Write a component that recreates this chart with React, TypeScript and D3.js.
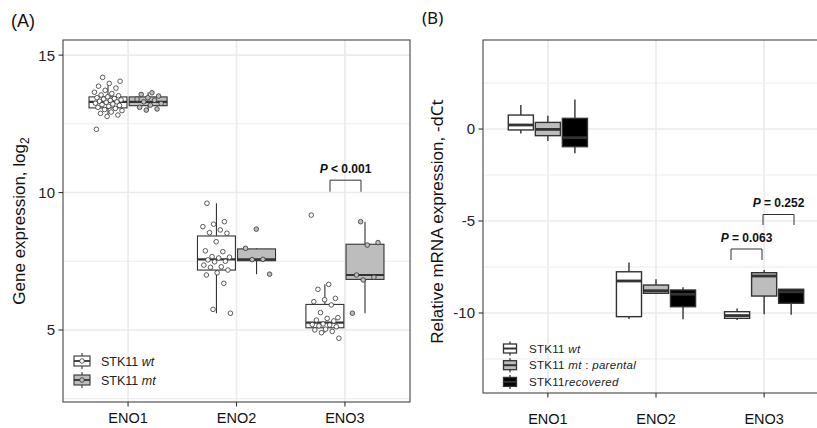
import React from "react";
import * as d3 from "d3";

const genes = ["ENO1", "ENO2", "ENO3"];
const yTicksA = [5, 10, 15];
const yMinorA = [2.5, 7.5, 12.5];
const yTicksB = [0, -5, -10];
const yMinorB = [2.5, -2.5, -7.5, -12.5];

// box stats: [lower whisker, Q1, median, Q3, upper whisker]
const boxA_wt = [
  [12.75, 13.08, 13.3, 13.48, 13.9],
  [5.61, 7.18, 7.57, 8.42, 9.61],
  [4.9, 5.08, 5.27, 5.93, 6.66],
];
const boxA_mt = [
  [13.0, 13.16, 13.3, 13.48, 13.65],
  [7.03, 7.52, 7.57, 7.95, 7.97],
  [5.61, 6.84, 7.0, 8.12, 8.94],
];

// individual samples (panel A)
const ptsA_wt = [
  [14.19, 14.05, 13.97, 13.87, 13.8, 13.72, 13.65, 13.6, 13.55, 13.52, 13.48, 13.45, 13.42, 13.4, 13.37, 13.35, 13.32, 13.3, 13.28, 13.25, 13.22, 13.2, 13.17, 13.14, 13.1, 13.06, 13.02, 12.98, 12.93, 12.88, 12.82, 12.77, 12.3],
  [9.61, 8.94, 8.85, 8.76, 8.64, 8.54, 8.52, 8.21, 7.88, 7.85, 7.67, 7.65, 7.62, 7.55, 7.5, 7.48, 7.36, 7.3, 7.28, 7.18, 7.08, 7.0, 6.7, 5.75, 5.61],
  [9.18, 6.66, 6.48, 6.15, 6.1, 6.03, 5.91, 5.63, 5.45, 5.42, 5.36, 5.33, 5.22, 5.2, 5.18, 5.15, 5.12, 5.03, 5.0, 4.95, 4.9, 4.7],
];
const ptsA_mt = [
  [13.63, 13.57, 13.51, 13.45, 13.4, 13.36, 13.3, 13.24, 13.18, 13.1, 13.04, 13.0],
  [8.67, 7.97, 7.57, 7.56, 7.03],
  [8.94, 8.18, 8.09, 7.0, 6.92, 6.82, 5.61],
];

const boxB_wt = [
  [-0.24, -0.05, 0.22, 0.76, 1.3],
  [-10.33, -10.2, -8.26, -7.76, -7.25],
  [-10.38, -10.29, -10.14, -9.93, -9.75],
];
const boxB_mt = [
  [-0.65, -0.36, -0.02, 0.36, 0.72],
  [-8.93, -8.93, -8.79, -8.48, -8.17],
  [-10.07, -9.08, -7.99, -7.81, -7.66],
];
const boxB_rec = [
  [-1.32, -0.96, -0.47, 0.58, 1.61],
  [-10.34, -9.66, -8.98, -8.75, -8.6],
  [-10.1, -9.47, -8.85, -8.71, -8.71],
];

const FONT = "'Liberation Sans', Arial, sans-serif";
const STROKE = "#333";
const GRID = "#ebebeb";
const FILL_WT = "#ffffff";
const FILL_MT = "#bdbdbd";
const FILL_REC = "#000000";

function jit(i: number) {
  return ((i * 0.6180339887 + 0.31) % 1) - 0.5;
}

function Box({ cx, hw, s, y, fill, sw, key }: any) {
  const [lo, q1, md, q3, hi] = s;
  return (
    <g key={key}>
      <line x1={cx} x2={cx} y1={y(hi)} y2={y(q3)} stroke={STROKE} strokeWidth={sw} />
      <line x1={cx} x2={cx} y1={y(q1)} y2={y(lo)} stroke={STROKE} strokeWidth={sw} />
      <rect x={cx - hw} width={hw * 2} y={y(q3)} height={Math.max(0.5, y(q1) - y(q3))} fill={fill} stroke={STROKE} strokeWidth={sw} />
      <line x1={cx - hw} x2={cx + hw} y1={y(md)} y2={y(md)} stroke={STROKE} strokeWidth={sw * 2} />
    </g>
  );
}

function Bracket({ x1, x2, yTop, yBot, label, rest }: any) {
  return (
    <g>
      <path d={`M${x1},${yBot}V${yTop}H${x2}V${yBot}`} fill="none" stroke={STROKE} strokeWidth={1} />
      <text x={(x1 + x2) / 2} y={yTop - 7.5} textAnchor="middle" fontFamily={FONT} fontSize={12} fontWeight="bold" fill="#111">
        <tspan fontStyle="italic">{label}</tspan>
        {rest}
      </text>
    </g>
  );
}

export default function App() {
  const W = 817, H = 428;
  // Panel A
  const A = { x0: 63, x1: 410, y0: 40, y1: 402 };
  const xA = d3.scalePoint<string>().domain(genes).range([A.x0, A.x1]).padding(0.6);
  const yA = d3.scaleLinear().domain([2.38, 15.55]).range([A.y1, A.y0]);
  const stA = xA.step();
  const offA = 0.185 * stA;
  const hwA = 0.175 * stA;

  // Panel B
  const B = { x0: 483, x1: 829, y0: 40, y1: 393 };
  const xB = d3.scalePoint<string>().domain(genes).range([B.x0, B.x1]).padding(0.6);
  const yB = d3.scaleLinear().domain([-14.35, 4.84]).range([B.y1, B.y0]);
  const stB = xB.step();
  const offB = 0.25 * stB;
  const hwB = 0.116 * stB;

  const groupsA = [
    { box: boxA_wt, pts: ptsA_wt, fill: FILL_WT, off: -offA },
    { box: boxA_mt, pts: ptsA_mt, fill: FILL_MT, off: offA },
  ];
  const groupsB = [
    { box: boxB_wt, fill: FILL_WT, off: -offB },
    { box: boxB_mt, fill: FILL_MT, off: 0 },
    { box: boxB_rec, fill: FILL_REC, off: offB },
  ];

  const legendA = [
    { fill: FILL_WT, a: "STK11 ", b: "wt", c: "" },
    { fill: FILL_MT, a: "STK11 ", b: "mt", c: "" },
  ];
  const legendB = [
    { fill: FILL_WT, parts: [["STK11 ", false], ["wt", true]] },
    { fill: FILL_MT, parts: [["STK11 ", false], ["mt", true], [" : ", false], ["parental", true]] },
    { fill: FILL_REC, parts: [["STK11", false], ["recovered", true]] },
  ];

  return (
    <svg width={W} height={H} style={{ position: "absolute", left: 0, top: 0, background: "#fff" }}>
      <rect x={0} y={0} width={W} height={H} fill="#fff" />
      {/* ===== Panel A ===== */}
      <text x={11} y={27} fontFamily={FONT} fontSize={18} fill="#111">(A)</text>
      <g>
        {yMinorA.map((v) => (
          <line key={"am" + v} x1={A.x0} x2={A.x1} y1={yA(v)} y2={yA(v)} stroke={GRID} strokeWidth={1} />
        ))}
        {yTicksA.map((v) => (
          <line key={"aM" + v} x1={A.x0} x2={A.x1} y1={yA(v)} y2={yA(v)} stroke={GRID} strokeWidth={1.6} />
        ))}
        {genes.map((g) => (
          <line key={"av" + g} x1={xA(g)} x2={xA(g)} y1={A.y0} y2={A.y1} stroke={GRID} strokeWidth={1.6} />
        ))}
        {groupsA.map((G, gi) =>
          genes.map((g, i) => (
            <Box key={`ab${gi}${i}`} cx={(xA(g) as number) + G.off} hw={hwA} s={G.box[i]} y={yA} fill={G.fill} sw={1.1} />
          ))
        )}
        {groupsA.map((G, gi) =>
          genes.map((g, i) =>
            G.pts[i].map((v, k) => (
              <circle
                key={`ap${gi}${i}${k}`}
                cx={(xA(g) as number) + G.off + jit(k + gi * 7 + i * 3) * 0.26 * stA}
                cy={yA(v)}
                r={2.3}
                fill={G.fill}
                stroke={STROKE}
                strokeWidth={0.8}
              />
            ))
          )
        )}
        <rect x={A.x0} y={A.y0} width={A.x1 - A.x0} height={A.y1 - A.y0} fill="none" stroke="#444" strokeWidth={1.1} />
        {yTicksA.map((v) => (
          <g key={"at" + v}>
            <line x1={A.x0 - 4.5} x2={A.x0} y1={yA(v)} y2={yA(v)} stroke="#333" strokeWidth={1.1} />
            <text x={A.x0 - 8} y={yA(v)} dy="0.36em" textAnchor="end" fontFamily={FONT} fontSize={15} fill="#222">{v}</text>
          </g>
        ))}
        {genes.map((g) => (
          <g key={"ax" + g}>
            <line x1={xA(g)} x2={xA(g)} y1={A.y1} y2={A.y1 + 4.5} stroke="#333" strokeWidth={1.1} />
            <text x={xA(g)} y={423} textAnchor="middle" fontFamily={FONT} fontSize={14.5} fill="#111">{g}</text>
          </g>
        ))}
        <text transform={`translate(25,${(A.y0 + A.y1) / 2}) rotate(-90)`} textAnchor="middle" fontFamily={FONT} fontSize={17} fill="#111">
          Gene expression, log<tspan fontSize={12} dy={4}>2</tspan>
        </text>
        <Bracket x1={330} x2={361} yTop={yA(10.45)} yBot={yA(10.03)} label="P" rest=" < 0.001" />
        {legendA.map((L, i) => {
          const cy = 361 + i * 19;
          const cx = 82;
          return (
            <g key={"la" + i}>
              <line x1={cx} x2={cx} y1={cy - 8} y2={cy + 8} stroke={STROKE} strokeWidth={1.1} />
              <rect x={cx - 8} y={cy - 5} width={16} height={10} fill={L.fill} stroke={STROKE} strokeWidth={1.1} />
              <line x1={cx - 8} x2={cx + 8} y1={cy} y2={cy} stroke={STROKE} strokeWidth={1.8} />
              <circle cx={cx} cy={cy} r={2.3} fill={L.fill} stroke={STROKE} strokeWidth={0.8} />
              <text x={101} y={cy} dy="0.36em" fontFamily={FONT} fontSize={12.5} fill="#222">
                {L.a}<tspan fontStyle="italic">{L.b}</tspan>
              </text>
            </g>
          );
        })}
      </g>

      {/* ===== Panel B ===== */}
      <text x={422} y={24} fontFamily="'Noto Sans', 'Open Sans', sans-serif" fontSize={17} fill="#111">(B)</text>
      <g>
        {yMinorB.map((v) => (
          <line key={"bm" + v} x1={B.x0} x2={B.x1} y1={yB(v)} y2={yB(v)} stroke={GRID} strokeWidth={1} />
        ))}
        {yTicksB.map((v) => (
          <line key={"bM" + v} x1={B.x0} x2={B.x1} y1={yB(v)} y2={yB(v)} stroke={GRID} strokeWidth={1.6} />
        ))}
        {genes.map((g) => (
          <line key={"bv" + g} x1={xB(g)} x2={xB(g)} y1={B.y0} y2={B.y1} stroke={GRID} strokeWidth={1.6} />
        ))}
        {groupsB.map((G, gi) =>
          genes.map((g, i) => (
            <Box key={`bb${gi}${i}`} cx={(xB(g) as number) + G.off} hw={hwB} s={G.box[i]} y={yB} fill={G.fill} sw={1.4} />
          ))
        )}
        <rect x={B.x0} y={B.y0} width={B.x1 - B.x0} height={B.y1 - B.y0} fill="none" stroke="#444" strokeWidth={1.1} />
        {yTicksB.map((v) => (
          <g key={"bt" + v}>
            <line x1={B.x0 - 4.5} x2={B.x0} y1={yB(v)} y2={yB(v)} stroke="#333" strokeWidth={1.1} />
            <text x={B.x0 - 8} y={yB(v)} dy="0.36em" textAnchor="end" fontFamily={FONT} fontSize={15} fill="#222">{v}</text>
          </g>
        ))}
        {genes.map((g) => (
          <g key={"bx" + g}>
            <line x1={xB(g)} x2={xB(g)} y1={B.y1} y2={B.y1 + 4.5} stroke="#333" strokeWidth={1.1} />
            <text x={xB(g)} y={424} textAnchor="middle" fontFamily={FONT} fontSize={14.5} fill="#111">{g}</text>
          </g>
        ))}
        <text transform={`translate(443,${(B.y0 + B.y1) / 2 + 5}) rotate(-90)`} textAnchor="middle" fontFamily={FONT} fontSize={17} fill="#111">
          Relative mRNA expression, <tspan fontFamily="'Noto Sans', sans-serif">-dCt</tspan>
        </text>
        <Bracket x1={731} x2={762} yTop={249} yBot={260} label="P" rest=" = 0.063" />
        <Bracket x1={763} x2={794} yTop={214.5} yBot={225} label="P" rest=" = 0.252" />
        {legendB.map((L, i) => {
          const cy = 348.5 + i * 16.7;
          const cx = 510;
          return (
            <g key={"lb" + i}>
              <line x1={cx} x2={cx} y1={cy - 7} y2={cy + 7} stroke={STROKE} strokeWidth={1.3} />
              <rect x={cx - 6.5} y={cy - 4.5} width={13} height={9} fill={L.fill} stroke={STROKE} strokeWidth={1.3} />
              <line x1={cx - 6.5} x2={cx + 6.5} y1={cy} y2={cy} stroke={STROKE} strokeWidth={2} />
              <text x={529} y={cy} dy="0.36em" fontFamily={FONT} fontSize={11.5} letterSpacing={0.3} fill="#222">
                {L.parts.map((p: any, k: number) => (
                  <tspan key={k} fontStyle={p[1] ? "italic" : "normal"}>{p[0]}</tspan>
                ))}
              </text>
            </g>
          );
        })}
      </g>
    </svg>
  );
}
